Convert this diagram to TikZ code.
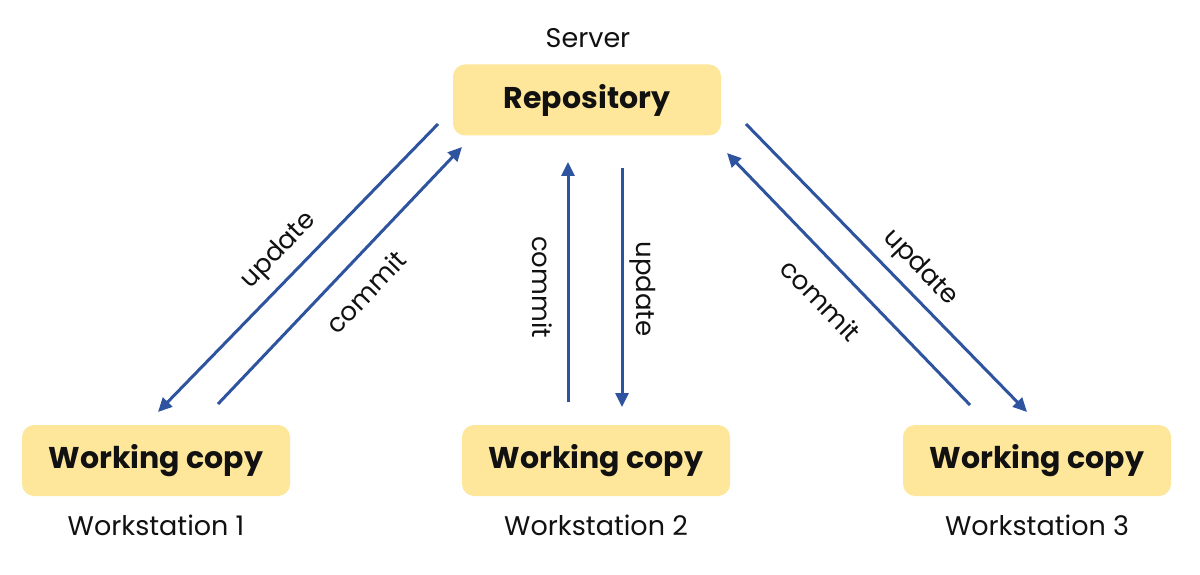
\documentclass[tikz,border=0pt]{standalone}
\usepackage{fontspec}
\setmainfont{Poppins}
\usetikzlibrary{arrows.meta}
\definecolor{boxfill}{HTML}{FEE69A}
\definecolor{arrowblue}{HTML}{2E54A0}
\definecolor{txt}{HTML}{111111}
\begin{document}
\begin{tikzpicture}[x=1pt,y=-1pt,
  box/.style={fill=boxfill,rounded corners=12pt,minimum width=268pt,minimum height=71pt,inner sep=0pt,font=\fontsize{30}{33}\selectfont\bfseries,text=txt},
  caption/.style={font=\fontsize{27}{30}\selectfont,text=txt},
  lbl/.style={font=\fontsize{26}{29}\selectfont,text=txt},
  flow/.style={draw=arrowblue,line width=3pt,-{Triangle[length=14pt,width=13pt]}}]
\useasboundingbox (0,0) rectangle (1200,575);
\node[box] (repo) at (587,100) {\raisebox{-2pt}{Repository}};
\node[box] (wc1) at (156,460.5) {\raisebox{-2pt}{Working copy}};
\node[box] (wc2) at (596,460.5) {\raisebox{-2pt}{Working copy}};
\node[box] (wc3) at (1037,460.5) {\raisebox{-2pt}{Working copy}};
\node[caption] (server) at (588,38) {Server};
\node[caption] (ws1) at (156,525) {Workstation 1};
\node[caption] (ws2) at (596,525) {Workstation 2};
\node[caption] (ws3) at (1037,525) {Workstation 3};
% arrow end points
\coordinate (u1s) at (438,124);
\coordinate (u1e) at (158,412);
\coordinate (c1s) at (218,404);
\coordinate (c1e) at (462,147);
\coordinate (c2s) at (568,402);
\coordinate (c2e) at (568,162);
\coordinate (u2s) at (622,168);
\coordinate (u2e) at (622,407);
\coordinate (c3s) at (970,405);
\coordinate (c3e) at (727,153);
\coordinate (u3s) at (746,124);
\coordinate (u3e) at (1027,412);
\draw[flow] (u1s) -- (u1e);
\draw[flow] (c1s) -- (c1e);
\draw[flow] (c2s) -- (c2e);
\draw[flow] (u2s) -- (u2e);
\draw[flow] (c3s) -- (c3e);
\draw[flow] (u3s) -- (u3e);
\node[lbl,rotate=46] (lu1) at (279,251) {update};
\node[lbl,rotate=46] (lc1) at (366,292) {commit};
\node[lbl,rotate=-90] (lc2) at (542,287) {commit};
\node[lbl,rotate=-90] (lu2) at (643,289) {update};
\node[lbl,rotate=-46] (lc3) at (821,300) {commit};
\node[lbl,rotate=-46] (lu3) at (920,268) {update};
\end{tikzpicture}
\end{document}
